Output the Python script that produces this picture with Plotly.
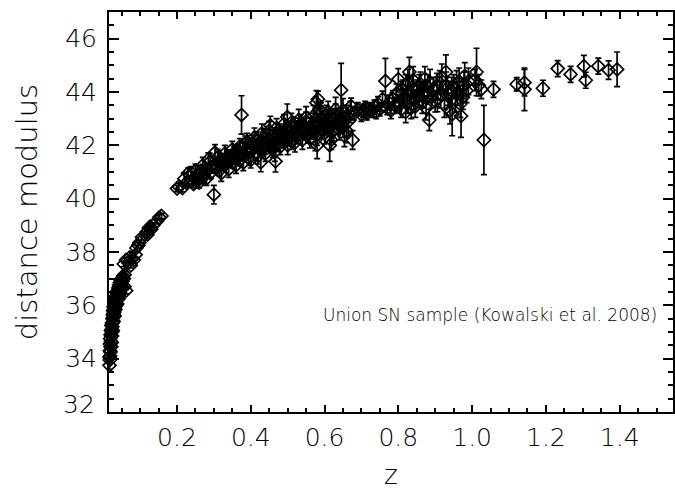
import plotly.graph_objects as go

# ---- data (redshift z, distance modulus mu, 1-sigma error) ----
z_near = [0.017, 0.017, 0.018, 0.018, 0.019, 0.019, 0.020, 0.020, 0.021, 0.021,
          0.022, 0.022, 0.023, 0.023, 0.024, 0.024, 0.025, 0.025, 0.026, 0.026,
          0.027, 0.027, 0.028, 0.028, 0.029, 0.030, 0.030, 0.031, 0.032, 0.033,
          0.034, 0.035, 0.036, 0.037, 0.038, 0.039, 0.040, 0.041, 0.042, 0.043,
          0.044, 0.045, 0.046, 0.047, 0.048, 0.050, 0.052, 0.054, 0.056, 0.058,
          0.020, 0.022, 0.024, 0.018, 0.026, 0.028, 0.031, 0.033, 0.035, 0.038,
          0.042, 0.046, 0.050, 0.062, 0.058,
          0.056, 0.062, 0.068, 0.072, 0.078, 0.083, 0.088, 0.075,
          0.090, 0.098, 0.105, 0.095,
          0.118, 0.124, 0.130, 0.135, 0.120, 0.127, 0.145, 0.152, 0.158]
mu_near = [34.05, 33.75, 34.30, 34.55, 34.10, 34.75, 34.45, 34.90, 34.65, 35.05,
           34.85, 35.25, 35.10, 34.60, 35.35, 35.00, 35.50, 35.20, 35.65, 35.35,
           35.80, 35.55, 35.95, 35.70, 35.85, 36.05, 35.75, 36.15, 35.95, 36.25,
           36.10, 36.35, 36.20, 36.45, 36.30, 36.55, 36.40, 36.65, 36.50, 36.75,
           36.60, 36.85, 36.70, 36.95, 36.80, 37.00, 36.90, 37.10, 37.00, 37.15,
           34.25, 34.45, 34.85, 33.95, 35.05, 35.40, 35.60, 35.85, 36.00, 36.05,
           36.25, 36.45, 36.65, 36.55, 36.70,
           37.55, 37.70, 37.60, 37.80, 37.75, 37.70, 37.90, 37.50,
           38.15, 38.35, 38.55, 38.25,
           38.75, 38.90, 38.85, 39.00, 38.65, 38.95, 39.15, 39.30, 39.35]
err_near = [0.15, 0.15, 0.12, 0.12, 0.15, 0.12, 0.12, 0.12, 0.12, 0.12,
            0.12, 0.12, 0.12, 0.15, 0.12, 0.12, 0.12, 0.12, 0.12, 0.12,
            0.12, 0.12, 0.12, 0.12, 0.12, 0.12, 0.12, 0.12, 0.12, 0.12,
            0.12, 0.12, 0.12, 0.12, 0.12, 0.12, 0.12, 0.12, 0.12, 0.12,
            0.12, 0.12, 0.12, 0.12, 0.12, 0.12, 0.12, 0.12, 0.12, 0.12,
            0.15, 0.15, 0.15, 0.15, 0.12, 0.12, 0.12, 0.12, 0.12, 0.12,
            0.12, 0.12, 0.12, 0.12, 0.12,
            0.10, 0.10, 0.10, 0.10, 0.10, 0.10, 0.10, 0.10,
            0.10, 0.10, 0.10, 0.10,
            0.10, 0.10, 0.10, 0.10, 0.10, 0.10, 0.10, 0.10, 0.10]

z_mid = [0.200, 0.205, 0.215, 0.225, 0.230, 0.240, 0.245, 0.250, 0.255, 0.260,
         0.265, 0.270, 0.275, 0.280, 0.285, 0.290, 0.295, 0.300, 0.303, 0.305,
         0.310, 0.315, 0.320, 0.325, 0.330, 0.335, 0.340, 0.345, 0.350, 0.355,
         0.360, 0.365, 0.370, 0.375, 0.378, 0.380, 0.385, 0.390, 0.395, 0.400,
         0.405, 0.410, 0.415, 0.420, 0.425, 0.427, 0.430, 0.435, 0.440, 0.445,
         0.450, 0.453, 0.455, 0.460, 0.465, 0.467, 0.470, 0.475, 0.480, 0.485,
         0.490, 0.495, 0.499, 0.500, 0.505, 0.510, 0.515, 0.520, 0.525, 0.530,
         0.535, 0.540, 0.545, 0.550, 0.555, 0.560, 0.565, 0.570, 0.575, 0.578,
         0.580, 0.585, 0.590, 0.595, 0.600, 0.605, 0.610, 0.614, 0.620, 0.625,
         0.630, 0.635, 0.640, 0.645, 0.650, 0.654, 0.660, 0.665, 0.670,
         0.312, 0.328, 0.342, 0.358, 0.372, 0.388, 0.402, 0.418, 0.432, 0.448,
         0.462, 0.478, 0.492, 0.508, 0.522, 0.538, 0.552, 0.568, 0.582, 0.598,
         0.612, 0.628, 0.642, 0.658, 0.582, 0.586, 0.618, 0.676, 0.672]
mu_mid = [40.38, 40.45, 40.40, 40.60, 40.95, 40.70, 40.55, 40.80, 40.65, 40.90,
          41.05, 40.80, 40.95, 41.10, 41.47, 40.95, 41.20, 40.15, 41.73, 41.15,
          41.35, 41.05, 41.25, 41.45, 41.30, 41.55, 41.40, 41.60, 41.35, 41.70,
          41.50, 41.80, 41.45, 43.14, 41.90, 41.65, 42.05, 41.75, 41.50, 41.90,
          42.10, 41.70, 41.95, 42.20, 41.85, 41.36, 42.05, 42.30, 41.95, 42.15,
          42.40, 42.75, 42.00, 42.25, 41.75, 41.40, 42.35, 42.10, 42.50, 42.20,
          42.40, 42.60, 43.06, 42.30, 42.55, 42.15, 42.45, 42.70, 42.35, 42.60,
          42.80, 42.50, 42.65, 42.90, 42.40, 42.70, 42.55, 42.85, 42.20, 43.60,
          42.00, 42.75, 42.95, 42.60, 42.85, 43.10, 42.70, 42.00, 42.95, 42.55,
          43.15, 42.80, 43.00, 44.07, 42.70, 42.35, 43.10, 42.90, 43.25,
          41.20, 41.40, 41.55, 41.60, 41.65, 41.85, 41.80, 42.00, 41.90, 42.10,
          42.05, 42.30, 42.25, 42.40, 42.55, 42.65, 42.55, 42.75, 42.85, 42.75,
          42.95, 43.00, 42.85, 43.00, 43.73, 43.35, 42.20, 42.20, 43.47]
err_mid = [0.12, 0.12, 0.15, 0.15, 0.20, 0.15, 0.15, 0.18, 0.15, 0.18,
           0.20, 0.18, 0.18, 0.20, 0.25, 0.18, 0.20, 0.35, 0.30, 0.20,
           0.20, 0.20, 0.20, 0.22, 0.20, 0.22, 0.20, 0.22, 0.20, 0.25,
           0.22, 0.25, 0.22, 0.72, 0.25, 0.22, 0.30, 0.22, 0.25, 0.25,
           0.28, 0.25, 0.25, 0.30, 0.25, 0.35, 0.28, 0.30, 0.28, 0.28,
           0.30, 0.34, 0.28, 0.28, 0.35, 0.40, 0.30, 0.30, 0.30, 0.30,
           0.30, 0.32, 0.49, 0.30, 0.30, 0.30, 0.30, 0.32, 0.30, 0.32,
           0.35, 0.30, 0.32, 0.35, 0.32, 0.32, 0.32, 0.35, 0.40, 0.45,
           0.50, 0.35, 0.35, 0.35, 0.35, 0.40, 0.35, 0.60, 0.38, 0.38,
           0.40, 0.38, 0.40, 1.00, 0.40, 0.40, 0.40, 0.40, 0.40,
           0.18, 0.20, 0.20, 0.20, 0.22, 0.22, 0.22, 0.25, 0.25, 0.25,
           0.25, 0.28, 0.28, 0.30, 0.30, 0.30, 0.30, 0.32, 0.32, 0.35,
           0.35, 0.38, 0.38, 0.40, 0.30, 0.30, 0.35, 0.35, 0.30]

# wider scatter of the dense 0.2 < z < 0.7 band
z_band = [0.220, 0.240, 0.250, 0.260, 0.270, 0.280, 0.290, 0.310, 0.320, 0.330,
          0.340, 0.350, 0.360, 0.370, 0.380, 0.390, 0.400, 0.410, 0.420, 0.430,
          0.440, 0.450, 0.460, 0.470, 0.480, 0.490, 0.500, 0.510, 0.520, 0.530,
          0.540, 0.550, 0.560, 0.570, 0.580, 0.590, 0.600, 0.610, 0.620, 0.630,
          0.640, 0.650, 0.660]
mu_band = [40.75, 40.95, 41.05, 40.60, 41.25, 40.75, 41.40, 41.55, 40.95, 41.70,
           41.10, 41.85, 41.25, 41.95, 41.35, 42.15, 41.45, 42.30, 41.60, 42.45,
           41.70, 42.55, 41.85, 42.65, 41.95, 42.80, 42.00, 42.85, 42.10, 42.95,
           42.20, 43.05, 42.25, 43.10, 42.40, 43.20, 42.45, 43.25, 42.50, 43.35,
           42.60, 43.30, 42.55]
err_band = [0.20, 0.25, 0.25, 0.20, 0.30, 0.25, 0.30, 0.30, 0.30, 0.30,
            0.30, 0.30, 0.30, 0.30, 0.30, 0.30, 0.30, 0.35, 0.30, 0.35,
            0.30, 0.35, 0.30, 0.35, 0.30, 0.35, 0.35, 0.35, 0.35, 0.40,
            0.35, 0.40, 0.35, 0.40, 0.40, 0.40, 0.40, 0.40, 0.40, 0.45,
            0.40, 0.45, 0.45]

z_far = [0.680, 0.690, 0.700, 0.705, 0.710, 0.715, 0.720, 0.728, 0.735, 0.740,
         0.745, 0.750, 0.757, 0.765, 0.770, 0.775, 0.780, 0.785, 0.790, 0.795,
         0.800, 0.803, 0.808, 0.812, 0.815, 0.820, 0.825, 0.830, 0.833, 0.838,
         0.842, 0.846, 0.850, 0.855, 0.860, 0.865, 0.870, 0.872, 0.875, 0.880,
         0.884, 0.890, 0.895, 0.900, 0.906, 0.912, 0.918, 0.925, 0.929, 0.935,
         0.940, 0.946, 0.950, 0.955, 0.960, 0.965, 0.970, 0.975, 0.980, 0.985,
         1.008, 1.012, 1.018, 1.025, 1.032, 1.058, 1.121, 1.142, 1.142, 1.192,
         1.232, 1.267, 1.303, 1.308, 1.342, 1.370, 1.393,
         0.810, 0.826, 0.840, 0.857, 0.868, 0.886, 0.905, 0.915, 0.930, 0.945,
         0.958, 0.968, 0.978, 0.990, 0.820, 0.835]
mu_far = [43.20, 43.35, 43.15, 43.30, 43.40, 43.20, 43.35, 43.30, 43.45, 43.25,
          43.55, 43.35, 43.73, 44.41, 43.40, 43.60, 43.30, 43.75, 43.50, 43.95,
          44.48, 43.60, 43.35, 44.10, 43.80, 44.25, 43.55, 44.75, 43.90, 44.20,
          43.70, 43.45, 44.05, 43.85, 44.30, 43.60, 44.00, 44.50, 43.40, 44.20,
          42.95, 43.80, 44.10, 43.65, 43.76, 44.35, 44.55, 43.50, 44.75, 43.95,
          43.30, 43.16, 44.20, 43.70, 43.95, 44.40, 43.10, 43.80, 44.60, 44.05,
          44.45, 44.75, 44.25, 44.10, 42.20, 44.10, 44.29, 44.35, 44.10, 44.14,
          44.88, 44.66, 44.97, 44.44, 44.97, 44.82, 44.85,
          43.95, 44.35, 44.45, 44.15, 43.85, 44.35, 44.20, 43.90, 44.25, 44.05,
          44.30, 43.55, 44.25, 44.40, 43.25, 43.40]
err_far = [0.25, 0.25, 0.25, 0.25, 0.25, 0.25, 0.25, 0.25, 0.25, 0.25,
           0.28, 0.25, 0.30, 0.85, 0.25, 0.28, 0.30, 0.30, 0.30, 0.35,
           0.40, 0.30, 0.30, 0.35, 0.30, 0.40, 0.35, 0.55, 0.35, 0.40,
           0.35, 0.40, 0.40, 0.40, 0.45, 0.40, 0.40, 0.45, 0.45, 0.45,
           0.40, 0.40, 0.45, 0.40, 0.50, 0.45, 0.50, 0.45, 0.64, 0.45,
           0.50, 0.80, 0.45, 0.45, 0.45, 0.50, 0.80, 0.45, 0.50, 0.45,
           0.40, 0.89, 0.40, 0.35, 1.30, 0.30, 0.25, 0.50, 0.80, 0.30,
           0.30, 0.30, 0.40, 0.30, 0.30, 0.35, 0.65,
           0.45, 0.50, 0.50, 0.50, 0.45, 0.50, 0.50, 0.50, 0.50, 0.50,
           0.50, 0.50, 0.50, 0.50, 0.40, 0.40]

x_ticks = [0.2, 0.4, 0.6, 0.8, 1.0, 1.2, 1.4]
x_ticktext = ["0.2", "0.4", "0.6", "0.8", "1.0", "1.2", "1.4"]
y_ticks = [34, 36, 38, 40, 42, 44, 46]
y_ticktext = ["34", "36", "38", "40", "42", "44", "46"]

z_all = z_near + z_mid + z_band + z_far
mu_all = mu_near + mu_mid + mu_band + mu_far
err_all = err_near + err_mid + err_band + err_far

FONT = "DejaVu Sans"
W = 200  # light weight, like the thin lettering of the reference

fig = go.Figure()
fig.add_trace(go.Scatter(
    x=z_all, y=mu_all, mode="markers",
    marker=dict(symbol="diamond-open", size=10, color="black",
                line=dict(width=1.7, color="black")),
    error_y=dict(type="data", array=err_all, visible=True,
                 color="black", thickness=1.7, width=3),
    cliponaxis=False, showlegend=False,
))

axis_common = dict(showline=True, linecolor="black", linewidth=2,
                   mirror="ticks", ticks="inside", tickcolor="black",
                   tickwidth=2, showgrid=False, zeroline=False,
                   tickfont=dict(family=FONT, size=25, color="black", weight=W))

fig.update_xaxes(range=[0.0157, 1.5446], tickvals=x_ticks, ticktext=x_ticktext,
                 ticklen=7,
                 minor=dict(dtick=0.05, tick0=0, ticks="inside", ticklen=4,
                            tickwidth=2, tickcolor="black", showgrid=False),
                 ticklabelstandoff=2,
                 **axis_common)
fig.update_yaxes(range=[32, 47], tickvals=y_ticks, ticktext=y_ticktext,
                 ticklen=10,
                 minor=dict(dtick=0.5, tick0=0, ticks="inside", ticklen=5,
                            tickwidth=2, tickcolor="black", showgrid=False),
                 ticklabelstandoff=5,
                 **axis_common)

fig.update_layout(
    width=675, height=494,
    margin=dict(l=109, r=0, t=12, b=82),
    plot_bgcolor="white", paper_bgcolor="white",
    font=dict(family=FONT, color="black"),
    annotations=[
        dict(text="32", xref="paper", yref="paper", x=-0.022, y=0.02,
             xanchor="right", yanchor="middle", showarrow=False,
             font=dict(family=FONT, size=25, color="black", weight=W)),
        dict(text="distance modulus", xref="paper", yref="paper",
             x=-0.145, y=0.5, textangle=-90, xanchor="center", yanchor="middle",
             showarrow=False, font=dict(family=FONT, size=29, color="black", weight=W)),
        dict(text="z", xref="paper", yref="paper", x=(392 - 109) / 566,
             y=-0.2, xanchor="center", yanchor="bottom", showarrow=False,
             font=dict(family=FONT, size=26, color="black", weight=W)),
        dict(text="Union SN sample (Kowalski et al. 2008)", xref="paper",
             yref="paper", x=0.975, y=0.2425, xanchor="right", yanchor="middle",
             showarrow=False, font=dict(family=FONT, size=17, color="black", weight=W)),
    ],
)

fig.write_html("out.html")
